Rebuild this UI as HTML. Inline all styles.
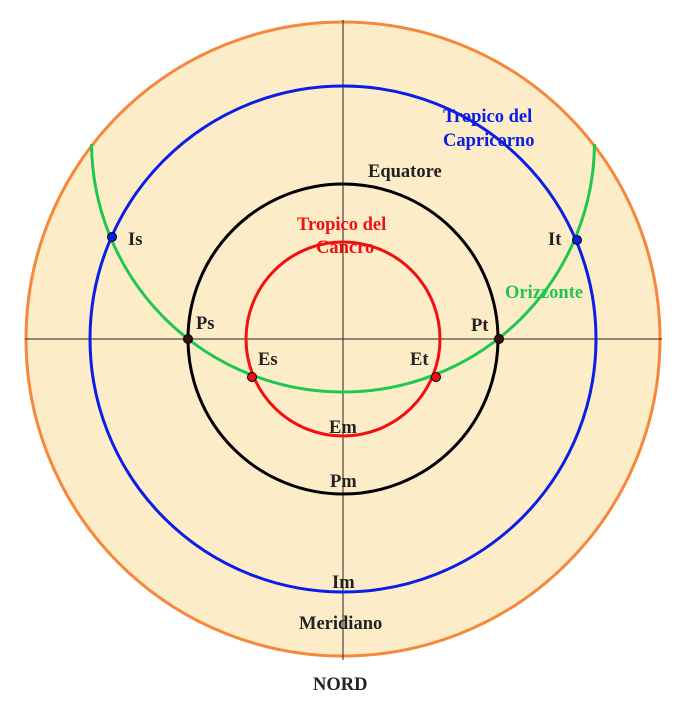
<!DOCTYPE html>
<html><head><style>body{margin:0;background:#fff}svg{display:block}text{font-family:"Liberation Serif",serif;font-weight:bold;font-size:18.5px}</style></head><body>
<svg width="690" height="724" viewBox="0 0 690 724">
<defs><clipPath id="c"><rect x="0" y="144" width="690" height="600"/></clipPath></defs>
<circle cx="343" cy="339" r="317" fill="#fdecc8" stroke="#f5883a" stroke-width="3"/>
<line x1="25" y1="339" x2="662" y2="339" stroke="#222" stroke-width="1"/>
<line x1="343" y1="20" x2="343" y2="660" stroke="#222" stroke-width="1"/>
<circle cx="343" cy="339" r="253" fill="none" stroke="#0a1ee6" stroke-width="3"/>
<circle cx="343" cy="339" r="155" fill="none" stroke="#000" stroke-width="3"/>
<circle cx="343" cy="339" r="97" fill="none" stroke="#f01010" stroke-width="3"/>
<ellipse cx="343" cy="142" rx="251.5" ry="250" fill="none" stroke="#1ec850" stroke-width="3" clip-path="url(#c)"/>
<g stroke="#000" stroke-width="1">
<circle cx="112" cy="237" r="4.5" fill="#0a1ee6"/>
<circle cx="577" cy="240" r="4.5" fill="#0a1ee6"/>
<circle cx="188" cy="339" r="4.5" fill="#3a1010"/>
<circle cx="499" cy="339" r="4.5" fill="#3a1010"/>
<circle cx="252" cy="377" r="4.5" fill="#f01010"/>
<circle cx="436" cy="377" r="4.5" fill="#f01010"/>
</g>
<g fill="#222">
<text x="368" y="177">Equatore</text>
<text x="128" y="245">Is</text>
<text x="548" y="245">It</text>
<text x="196" y="329">Ps</text>
<text x="471" y="331">Pt</text>
<text x="258" y="365">Es</text>
<text x="410" y="365">Et</text>
<text x="329" y="433">Em</text>
<text x="330" y="487">Pm</text>
<text x="332" y="588">Im</text>
<text x="299" y="629">Meridiano</text>
<text x="313" y="690">NORD</text>
</g>
<g fill="#0a1ee6"><text x="443" y="122">Tropico del</text><text x="443" y="146">Capricorno</text></g>
<g fill="#f01010"><text x="297" y="230">Tropico del</text><text x="316" y="253">Cancro</text></g>
<text x="505" y="298" fill="#1ec850">Orizzonte</text>
</svg>
</body></html>
